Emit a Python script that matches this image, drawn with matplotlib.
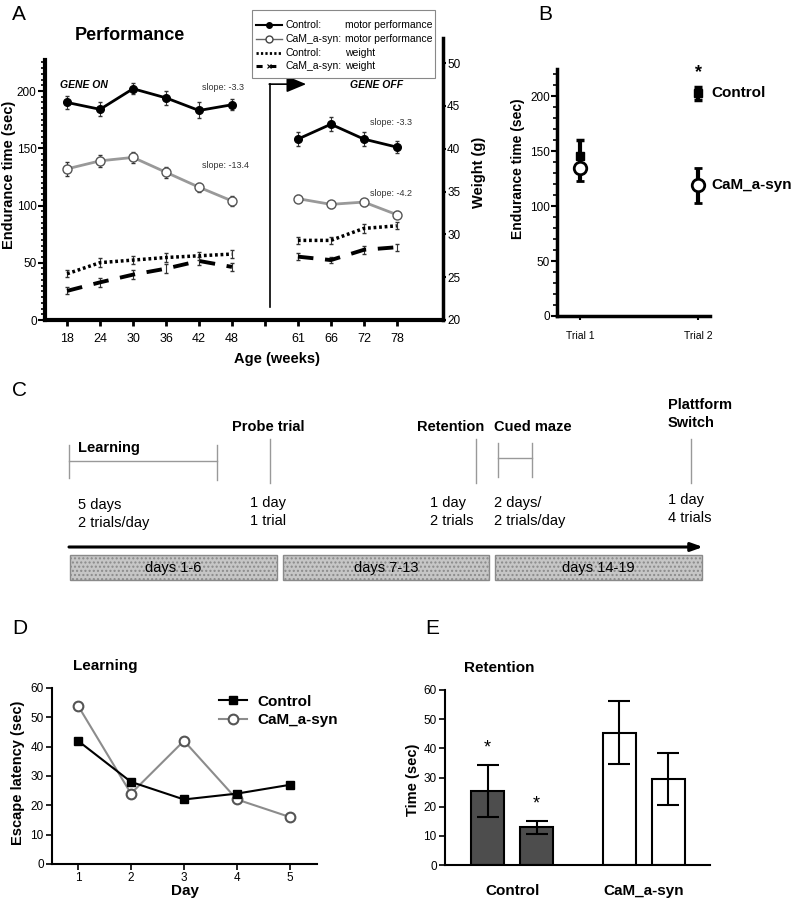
import matplotlib
matplotlib.use("Agg")
import matplotlib.pyplot as plt
from matplotlib.lines import Line2D
from matplotlib.patches import Rectangle
from matplotlib.ticker import MultipleLocator, FixedLocator
import numpy as np

plt.rcParams['font.family'] = ['Liberation Sans', 'DejaVu Sans']
plt.rcParams['hatch.color'] = '#b0b0b0'

# ---------------- Data ----------------
# Panel A
ages_on = [18, 24, 30, 36, 42, 48]
ages_off = [61, 66, 72, 78]
ctrl_motor_on = [190, 184, 202, 194, 183, 188]
cam_motor_on = [132, 139, 142, 129, 116, 104]
ctrl_motor_off = [158, 171, 158, 151]
cam_motor_off = [106, 101, 103, 92]
ctrl_motor_err_on = [6, 6, 5, 6, 7, 5]
cam_motor_err_on = [6, 5, 5, 5, 4, 4]
ctrl_motor_err_off = [6, 6, 6, 5]
cam_motor_err_off = [3, 3, 3, 3]
ctrl_weight_on = [25.4, 26.7, 27.0, 27.3, 27.5, 27.7]
cam_weight_on = [23.4, 24.4, 25.3, 26.0, 26.9, 26.2]
ctrl_weight_off = [29.3, 29.3, 30.7, 31.0]
cam_weight_off = [27.4, 27.0, 28.2, 28.5]
weight_err = [0.4, 0.5, 0.5, 0.5, 0.5, 0.5]
weight_err_off = [0.4, 0.4, 0.5, 0.4]
slopes_on = ['slope: -3.3', 'slope: -13.4']
slopes_off = ['slope: -3.3', 'slope: -4.2']
legend_groups = ['Control:', 'CaM_a-syn:', 'Control:', 'CaM_a-syn:']
legend_measures = ['motor performance', 'motor performance', 'weight', 'weight']

# Panel B
trials = ['Trial 1', 'Trial 2']
b_ctrl = [146, 203]
b_ctrl_err = [14, 6]
b_cam = [135, 119]
b_cam_err = [12, 16]

# Panel C
c_phases = ['Learning', 'Probe trial', 'Retention', 'Cued maze', 'Plattform\nSwitch']
c_details = ['5 days\n2 trials/day', '1 day\n1 trial', '1 day\n2 trials',
             '2 days/\n2 trials/day', '1 day\n4 trials']
c_blocks = ['days 1-6', 'days 7-13', 'days 14-19']

# Panel D
days = [1, 2, 3, 4, 5]
d_ctrl = [42, 28, 22, 24, 27]
d_cam = [54, 24, 42, 22, 16]

# Panel E
e_groups = ['Control', 'CaM_a-syn']
e_vals = [25.4, 12.9, 45.4, 29.5]
e_err = [8.8, 2.2, 10.9, 8.8]
e_sig = [True, True, False, False]

W, H = 793, 900
fig = plt.figure(figsize=(W / 100, H / 100), dpi=100)


def box(l, t, r, b):
    return [l / W, 1 - b / H, (r - l) / W, (b - t) / H]


def ftxt(x, y, s, **kw):
    fig.text(x / W, 1 - y / H, s, **kw)


def fx(x):
    return x / W


def fy(y):
    return 1 - y / H


# full-figure overlay in pixel coordinates (for diagram C)
axC = fig.add_axes([0, 0, 1, 1], zorder=-1)
axC.set_xlim(0, W)
axC.set_ylim(H, 0)
axC.axis('off')
axC.patch.set_alpha(0)

# ---------------- Panel A ----------------
axA = fig.add_axes(box(45, 38, 443, 320))
pos_on = np.arange(len(ages_on))
pos_off = np.arange(len(ages_off)) + len(ages_on) + 1
axA.set_xlim(-0.67, 11.4)
axA.set_ylim(0, 246.3)
for s in ['top', 'right']:
    axA.spines[s].set_visible(False)
axA.spines['left'].set_linewidth(3)
axA.spines['bottom'].set_linewidth(3)
axA.spines['left'].set_bounds(0, 227)
axA.set_yticks([0, 50, 100, 150, 200])
axA.yaxis.set_minor_locator(FixedLocator(np.arange(0, 228, 5)))
axA.tick_params(axis='y', which='major', length=5, width=1.5, labelsize=8.5, pad=1)
axA.tick_params(axis='y', which='minor', length=3, width=1.2)
xt = list(pos_on) + [len(ages_on)] + list(pos_off)
xl = [str(a) for a in ages_on] + [''] + [str(a) for a in ages_off]
axA.set_xticks(xt)
axA.set_xticklabels(xl)
axA.tick_params(axis='x', length=4, width=2, labelsize=9, pad=5)

for pos, vals, errs in [(pos_on, ctrl_motor_on, ctrl_motor_err_on),
                        (pos_off, ctrl_motor_off, ctrl_motor_err_off)]:
    axA.errorbar(pos, vals, yerr=errs, color='black', lw=2, marker='o', ms=5.5,
                 mfc='black', mec='black', ecolor='#333333', elinewidth=0.8,
                 capsize=1.5, zorder=4)
for pos, vals, errs in [(pos_on, cam_motor_on, cam_motor_err_on),
                        (pos_off, cam_motor_off, cam_motor_err_off)]:
    axA.errorbar(pos, vals, yerr=errs, color='#999999', lw=2, marker='o', ms=6.5,
                 mfc='white', mec='#555555', mew=1, ecolor='#333333',
                 elinewidth=0.8, capsize=1.5, zorder=4)

axA2 = axA.twinx()
axA2.set_ylim(20, 52.94)
for s in ['top', 'left', 'bottom']:
    axA2.spines[s].set_visible(False)
axA2.spines['right'].set_linewidth(2.5)
axA2.set_yticks([20, 25, 30, 35, 40, 45, 50])
axA2.tick_params(axis='y', length=2, width=1.5, labelsize=8.5, pad=1)
for pos, vals, errs in [(pos_on, ctrl_weight_on, weight_err),
                        (pos_off, ctrl_weight_off, weight_err_off)]:
    axA2.errorbar(pos, vals, yerr=errs, color='black', lw=2.5, ls=(0, (0.8, 0.8)),
                  ecolor='#333333', elinewidth=0.8, capsize=1.5)
for pos, vals, errs in [(pos_on, cam_weight_on, weight_err),
                        (pos_off, cam_weight_off, weight_err_off)]:
    axA2.errorbar(pos, vals, yerr=errs, color='black', lw=2.8, ls=(0, (4, 3)),
                  ecolor='#333333', elinewidth=0.8, capsize=1.5)

axA.set_ylabel('Endurance time (sec)', fontsize=10.5, fontweight='bold')
axA.yaxis.set_label_coords(-0.073, 0.514)
axA.set_xlabel('Age (weeks)', fontsize=10.5, fontweight='bold')
axA.xaxis.set_label_coords(0.583, -0.115)
axA2.set_ylabel('Weight (g)', fontsize=10.5, fontweight='bold')
axA2.yaxis.set_label_coords(1.073, 0.525)

# gene switch arrow
axA.plot([6.15, 6.15], [11, 206], color='black', lw=1.2)
axA.annotate('', xy=(7.25, 206), xytext=(6.13, 206),
             arrowprops=dict(arrowstyle='-|>,head_length=1.2,head_width=0.5',
                             color='black', lw=1.2, shrinkA=0, shrinkB=0))

ftxt(60, 88, 'GENE ON', fontsize=7.5, fontweight='bold', fontstyle='italic')
ftxt(350, 88, 'GENE OFF', fontsize=7.5, fontweight='bold', fontstyle='italic')
axA.text(4.1, ctrl_motor_on[4] + 18, slopes_on[0], fontsize=6.5, color='#333333')
axA.text(4.1, cam_motor_on[4] + 17, slopes_on[1], fontsize=6.5, color='#333333')
axA.text(pos_off[2] + 0.2, ctrl_motor_off[2] + 12, slopes_off[0], fontsize=6.5, color='#333333')
axA.text(pos_off[2] + 0.2, cam_motor_off[2] + 5, slopes_off[1], fontsize=6.5, color='#333333')

ftxt(75, 40, 'Performance', fontsize=13, fontweight='bold')
ftxt(12, 20, 'A', fontsize=15)

# legend for panel A (key swatches + two aligned text columns, framed)
leg_rows = [25, 39, 53, 66]
leg_styles = [
    dict(color='black', lw=1.5, marker='o', ms=4, mfc='black'),
    dict(color='#666666', lw=1, marker='o', ms=5, mfc='white', mec='#444444'),
    dict(color='black', lw=2, ls=(0, (0.8, 0.8))),
    dict(color='black', lw=2.2, ls=(0, (2, 2.5)), marker='x', ms=3, mew=0.8),
]
for y, st, g, m in zip(leg_rows, leg_styles, legend_groups, legend_measures):
    fig.add_artist(Line2D([fx(256), fx(269), fx(282)], [fy(y)] * 3,
                          transform=fig.transFigure, markevery=[1], zorder=5, **st))
    ftxt(285, y, g, fontsize=7.5, va='center', zorder=5)
    ftxt(345, y, m, fontsize=7.5, va='center', zorder=5)
fig.add_artist(Rectangle((fx(252), fy(78)), 183 / W, 68 / H, transform=fig.transFigure,
                         facecolor='white', edgecolor='#888888', lw=0.8, zorder=4))

# ---------------- Panel B ----------------
axB = fig.add_axes(box(557, 69, 710, 316))
xb = np.arange(1, len(trials) + 1)
axB.set_xlim(0.805, 2.10)
axB.set_ylim(0, 225)
for s in ['top', 'right']:
    axB.spines[s].set_visible(False)
axB.spines['left'].set_linewidth(2.5)
axB.spines['bottom'].set_linewidth(2.5)
axB.set_yticks([0, 50, 100, 150, 200])
axB.yaxis.set_minor_locator(MultipleLocator(10))
axB.tick_params(axis='y', which='major', length=4, width=1.5, labelsize=8.5, pad=1)
axB.tick_params(axis='y', which='minor', length=3, width=1.2)
axB.set_xticks(xb)
axB.set_xticklabels(trials)
axB.tick_params(axis='x', length=3, width=1.5, labelsize=7.5, pad=8)
axB.errorbar(xb, b_ctrl, yerr=b_ctrl_err, fmt='s', color='black', ms=6,
             elinewidth=3, capsize=3, capthick=2.5, ls='none', zorder=3)
axB.errorbar(xb, b_cam, yerr=b_cam_err, fmt='o', color='black', ms=9,
             mfc='white', mew=2, elinewidth=3, capsize=3, capthick=2.5,
             ls='none', zorder=4)
axB.text(xb[1], b_ctrl[1] + b_ctrl_err[1] + 5, '*', ha='center', va='bottom',
         fontsize=13, fontweight='bold')
axB.text(xb[1] + 0.11, b_ctrl[1], 'Control', ha='left', va='center',
         fontsize=11, fontweight='bold', clip_on=False)
axB.text(xb[1] + 0.11, b_cam[1], 'CaM_a-syn', ha='left', va='center',
         fontsize=11, fontweight='bold', clip_on=False)
axB.set_ylabel('Endurance time (sec)', fontsize=10, fontweight='bold')
axB.yaxis.set_label_coords(-0.21, 0.595)
ftxt(538, 20, 'B', fontsize=15)

# ---------------- Panel C ----------------
ftxt(12, 396, 'C', fontsize=15)
gray = '#999999'
axC.plot([69, 69], [445, 478], color=gray, lw=1)
axC.plot([69, 217], [461, 461], color=gray, lw=1)
axC.plot([217, 217], [445, 480], color=gray, lw=1)
for x in [270, 476, 691]:
    axC.plot([x, x], [439, 483], color=gray, lw=1)
axC.plot([498, 498], [443, 477], color=gray, lw=1)
axC.plot([498, 532], [458, 458], color=gray, lw=1)
axC.plot([532, 532], [443, 477], color=gray, lw=1)

phase_xy = [(78, 448), (232, 427), (417, 427), (494, 427), (668, 414)]
detail_xy = [(78, 514), (250, 512), (430, 512), (494, 512), (668, 509)]
for (x, y), s in zip(phase_xy, c_phases):
    axC.text(x, y, s, fontsize=10.5, fontweight='bold', va='center', ha='left',
             linespacing=1.3)
for (x, y), s in zip(detail_xy, c_details):
    axC.text(x, y, s, fontsize=10.5, va='center', ha='left', linespacing=1.3)
axC.annotate('', xy=(703, 547), xytext=(69, 547),
             arrowprops=dict(arrowstyle='-|>,head_length=0.7,head_width=0.25',
                             color='black', lw=2.2, shrinkA=0, shrinkB=0))
block_x = [(70, 277), (283, 489), (495, 702)]
for (x0, x1), s in zip(block_x, c_blocks):
    axC.add_patch(Rectangle((x0, 555), x1 - x0, 25, facecolor='#c6c6c6',
                            edgecolor='#8a8a8a', lw=1, hatch='....'))
    axC.text((x0 + x1) / 2, 568, s, fontsize=10.5, ha='center', va='center')

# ---------------- Panel D ----------------
axD = fig.add_axes(box(52, 688, 317, 864))
axD.set_xlim(0.51, 5.51)
axD.set_ylim(0, 60)
for s in ['top', 'right']:
    axD.spines[s].set_visible(False)
axD.spines['left'].set_linewidth(1.5)
axD.spines['bottom'].set_linewidth(1.5)
axD.set_xticks(days)
axD.set_yticks([0, 10, 20, 30, 40, 50, 60])
axD.tick_params(length=4, width=1.2, labelsize=8.5, pad=2)
axD.plot(days, d_ctrl, color='black', lw=1.5, marker='s', ms=6, label='Control', zorder=4)
axD.plot(days, d_cam, color='#8c8c8c', lw=1.5, marker='o', ms=7, mfc='white',
         mec='#555555', mew=1.5, label='CaM_a-syn', zorder=3)
axD.legend(loc='upper left', bbox_to_anchor=(0.58, 1.04), frameon=False,
           prop={'size': 11, 'weight': 'bold'}, handlelength=1.8,
           handletextpad=0.65, labelspacing=0.3)
axD.set_xlabel('Day', fontsize=11, fontweight='bold', labelpad=0)
axD.set_ylabel('Escape latency (sec)', fontsize=10.5, fontweight='bold')
axD.yaxis.set_label_coords(-0.1, 0.517)
ftxt(73, 670, 'Learning', fontsize=11, fontweight='bold')
ftxt(12, 634, 'D', fontsize=15)

# ---------------- Panel E ----------------
axE = fig.add_axes(box(445, 690, 710, 865))
xe = [0, 1, 2.69, 3.69]
axE.set_xlim(-0.87, 4.54)
axE.set_ylim(0, 60)
for s in ['top', 'right']:
    axE.spines[s].set_visible(False)
axE.spines['left'].set_linewidth(1.5)
axE.spines['bottom'].set_linewidth(1.5)
colors = ['#4d4d4d', '#4d4d4d', 'white', 'white']
axE.bar(xe, e_vals, width=0.67, color=colors, edgecolor='black', lw=1.5, zorder=2)
axE.errorbar(xe, e_vals, yerr=e_err, fmt='none', ecolor='black', elinewidth=1.5,
             capsize=8, capthick=1.5, zorder=3)
for x, v, er, sg in zip(xe, e_vals, e_err, e_sig):
    if sg:
        axE.text(x, v + er + 3, '*', ha='center', va='bottom', fontsize=13)
axE.set_yticks([0, 10, 20, 30, 40, 50, 60])
axE.set_xticks([(xe[0] + xe[1]) / 2, (xe[2] + xe[3]) / 2])
axE.set_xticklabels(e_groups, fontsize=11, fontweight='bold')
axE.tick_params(axis='x', length=0, pad=14)
axE.tick_params(axis='y', length=4, width=1.2, labelsize=8.5, pad=2)
axE.set_ylabel('Time (sec)', fontsize=10.5, fontweight='bold')
axE.yaxis.set_label_coords(-0.094, 0.486)
ftxt(464, 672, 'Retention', fontsize=11, fontweight='bold')
ftxt(425, 634, 'E', fontsize=15)

fig.savefig('out.png', dpi=100)
